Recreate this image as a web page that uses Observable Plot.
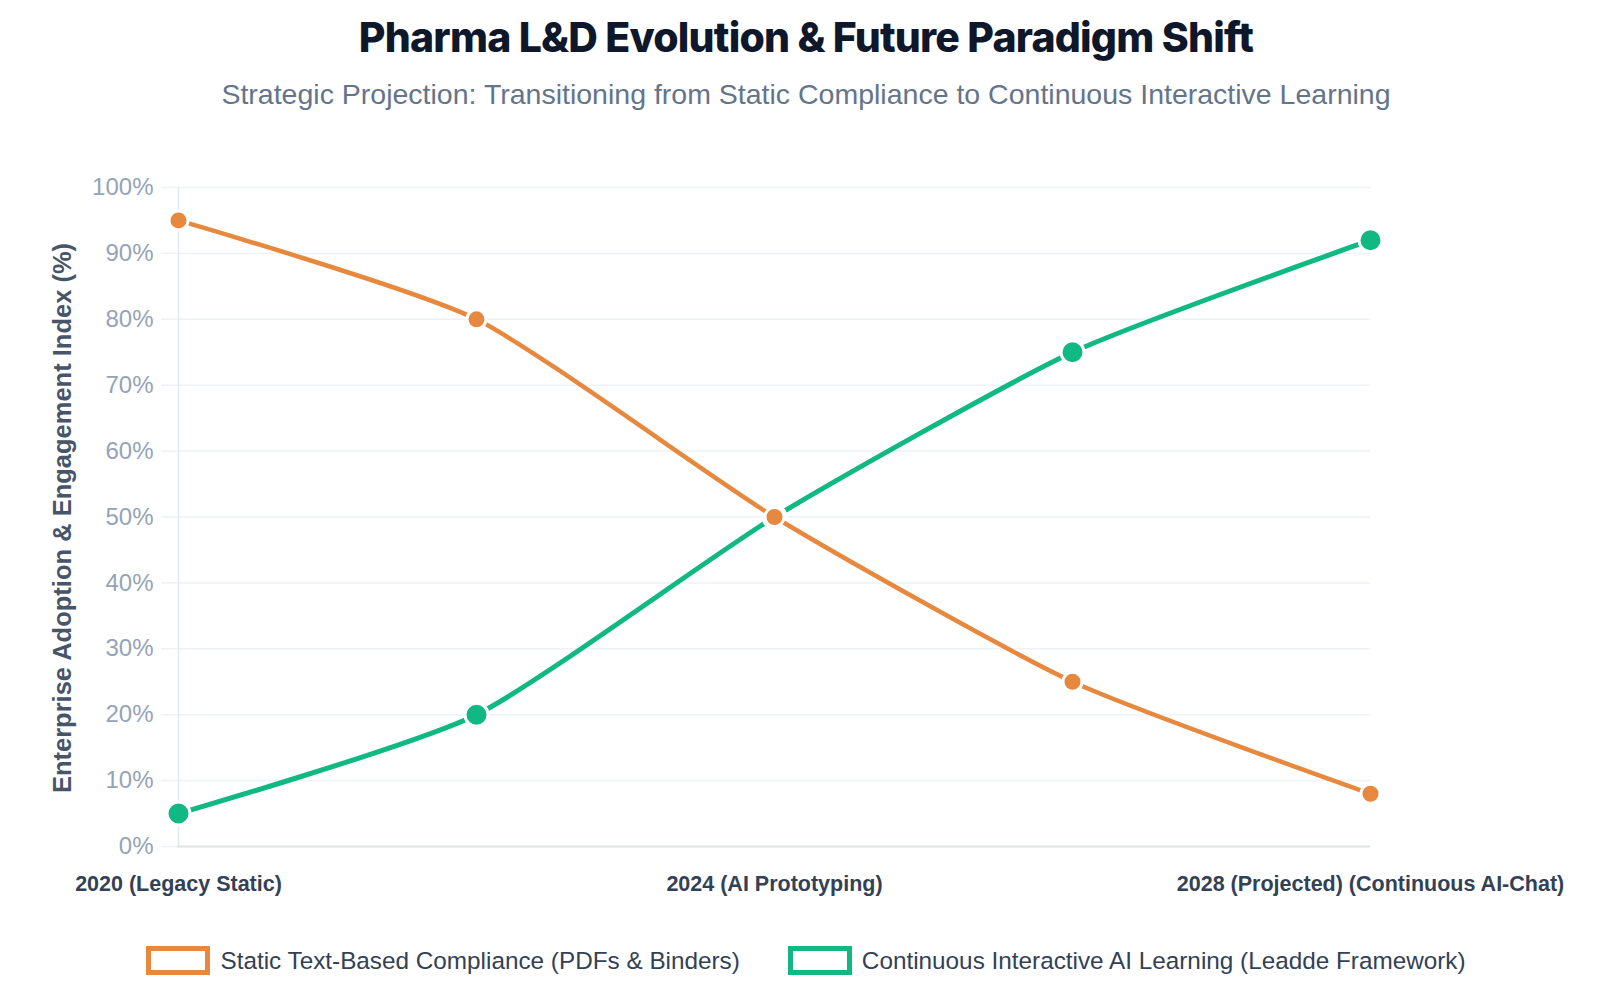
<!DOCTYPE html>
<html>
<head>
<meta charset="utf-8">
<script src="https://cdn.jsdelivr.net/npm/d3@7"></script>
<script src="https://cdn.jsdelivr.net/npm/@observablehq/plot@0.6"></script>
<style>
  html, body { margin: 0; padding: 0; background: #ffffff; }
  body { width: 1612px; height: 1004px; position: relative; overflow: hidden; font-family: "Liberation Sans", Arial, sans-serif; }
  #title { position: absolute; top: 13px; left: 0; width: 1612px; text-align: center; font-family: Inter, sans-serif; font-weight: 800; font-size: 41px; line-height: 48px; color: #0f172a; letter-spacing: -0.8px; }
  #subtitle { position: absolute; top: 77px; left: 0; width: 1612px; text-align: center; font-size: 28.5px; line-height: 34px; color: #64748b; }
  #chart { position: absolute; top: 140px; left: 0; }
  #legend { position: absolute; top: 946px; left: 0; width: 1612px; display: flex; justify-content: center; align-items: center; font-size: 24.3px; color: #334155; }
  .item { display: flex; align-items: center; }
  .box { width: 54px; height: 19px; border-style: solid; border-width: 5px; background: #fff; margin-right: 10px; }
  .gap { width: 48px; }
</style>
</head>
<body>
<div id="title"></div>
<div id="subtitle"></div>
<div id="chart"></div>
<div id="legend"></div>
<script>
const titleText = "Pharma L&D Evolution & Future Paradigm Shift";
const subtitleText = "Strategic Projection: Transitioning from Static Compliance to Continuous Interactive Learning";
const yAxisTitle = "Enterprise Adoption & Engagement Index (%)";

const periods = ["2020 (Legacy Static)", "2022", "2024 (AI Prototyping)", "2026", "2028 (Projected) (Continuous AI-Chat)"];
const shownPeriods = ["2020 (Legacy Static)", "2024 (AI Prototyping)", "2028 (Projected) (Continuous AI-Chat)"];
const seriesNames = ["Static Text-Based Compliance (PDFs & Binders)", "Continuous Interactive AI Learning (Leadde Framework)"];
const staticValues = [95, 80, 50, 25, 8];
const aiValues = [5, 20, 50, 75, 92];
const yTicks = [0, 10, 20, 30, 40, 50, 60, 70, 80, 90, 100];

const orange = "#e6893f";
const green = "#10b981";

const staticRows = periods.map((p, i) => ({period: p, value: staticValues[i]}));
const aiRows = periods.map((p, i) => ({period: p, value: aiValues[i]}));

document.getElementById("title").textContent = titleText;
document.getElementById("subtitle").textContent = subtitleText;

const chart = Plot.plot({
  width: 1612,
  height: 780,
  marginTop: 47,
  marginBottom: 74,
  marginLeft: 177,
  marginRight: 242,
  style: {fontFamily: "'Liberation Sans', Arial, sans-serif", background: "transparent", overflow: "visible"},
  x: {type: "point", domain: periods, padding: 0},
  y: {domain: [0, 100]},
  marks: [
    Plot.gridY(yTicks, {stroke: "#eef2f6", strokeOpacity: 1, strokeWidth: 1.5}),
    Plot.axisY(yTicks, {tickSize: 16, tickPadding: 8, tickFormat: d => d + "%", fontSize: 24, fill: "#94a3b8", stroke: "#eef2f6", strokeWidth: 1.5, label: null}),
    Plot.ruleY([0], {stroke: "#dfe4ea", strokeWidth: 2}),
    Plot.ruleX([periods[0]], {stroke: "#e3e8ee", strokeWidth: 1.5}),
    Plot.axisX(shownPeriods, {tickSize: 0, tickPadding: 29, fontSize: 21.5, fontWeight: "bold", fill: "#334155", label: null}),
    Plot.text([yAxisTitle], {frameAnchor: "left", textAnchor: "middle", rotate: -90, dx: -115, dy: 1, fontSize: 25.5, fontWeight: "bold", fill: "#475569", text: d => d}),
    Plot.line(aiRows, {x: "period", y: "value", stroke: green, strokeWidth: 5, curve: "cardinal", tension: 0.4}),
    Plot.dot(aiRows, {x: "period", y: "value", r: 11.5, fill: green, stroke: "#ffffff", strokeWidth: 3}),
    Plot.line(staticRows, {x: "period", y: "value", stroke: orange, strokeWidth: 4.5, curve: "cardinal", tension: 0.4}),
    Plot.dot(staticRows, {x: "period", y: "value", r: 9.5, fill: orange, stroke: "#ffffff", strokeWidth: 3})
  ]
});
document.getElementById("chart").appendChild(chart);

const legend = document.getElementById("legend");
[[seriesNames[0], orange], [seriesNames[1], green]].forEach(([name, color], i) => {
  if (i > 0) { const g = document.createElement("div"); g.className = "gap"; legend.appendChild(g); }
  const item = document.createElement("div"); item.className = "item";
  const box = document.createElement("div"); box.className = "box"; box.style.borderColor = color;
  const label = document.createElement("span"); label.textContent = name;
  item.appendChild(box); item.appendChild(label);
  legend.appendChild(item);
});
</script>
</body>
</html>
